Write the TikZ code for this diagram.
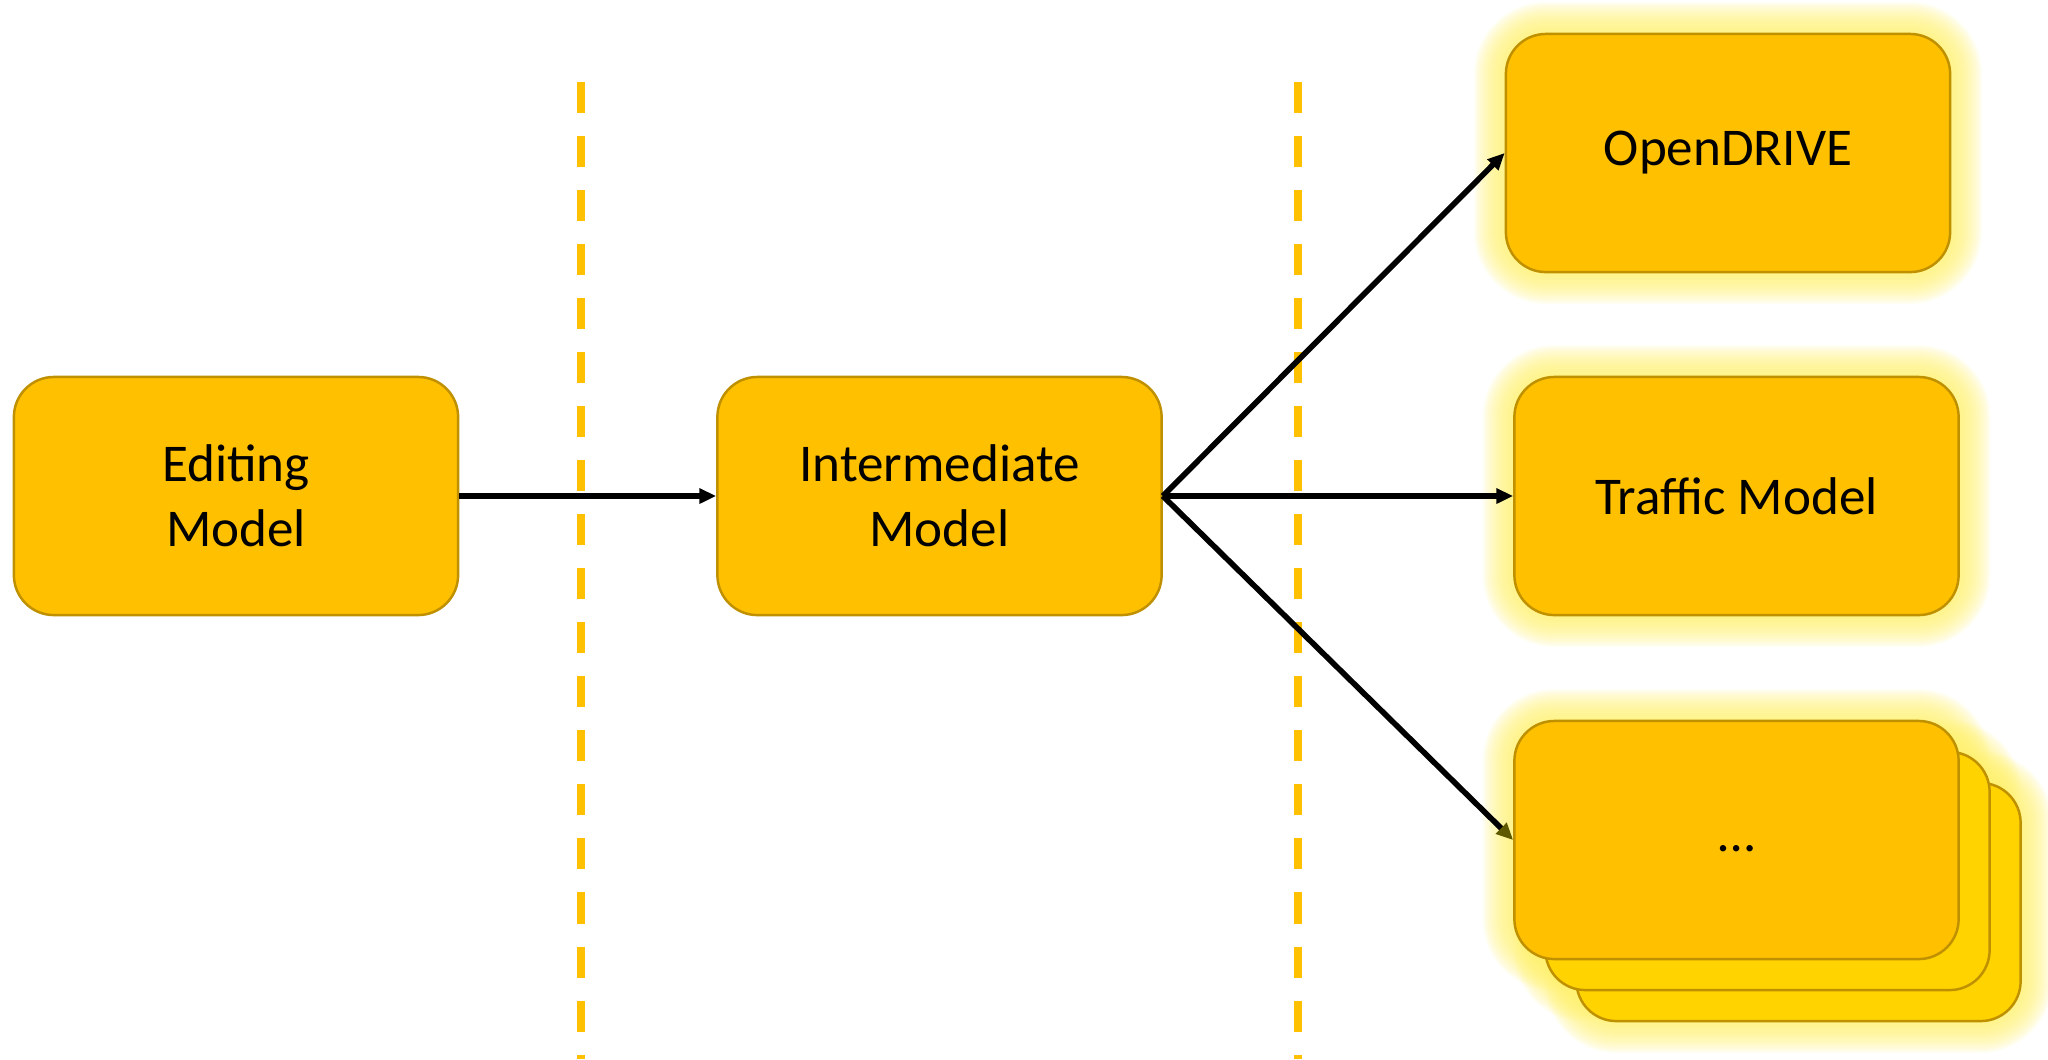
\documentclass[tikz,border=0pt]{standalone}
\usepackage{fontspec}
\setmainfont{Carlito}
\usetikzlibrary{arrows.meta}
\definecolor{gold}{HTML}{FFC000}
\definecolor{goldedge}{HTML}{BF9000}
\definecolor{goldlight}{HTML}{FFD300}
\definecolor{glowc}{HTML}{FFF06A}
\definecolor{olivetip}{HTML}{5F5A00}
\begin{document}
\begin{tikzpicture}[x=0.01cm,y=-0.01cm,
  box/.style={draw=goldedge, line width=0.7pt, fill=gold, rounded corners=0.4cm,
    minimum width=4.44cm, minimum height=2.38cm, align=center, inner sep=0pt,
    font=\fontsize{15.1}{18.5}\selectfont},
  backbox/.style={box, fill=goldlight},
  arr/.style={line width=1.6pt, -{Triangle[length=4.8pt,width=4.2pt]}},
  sep/.style={draw=gold, line width=2.3pt, dash pattern=on 0.31cm off 0.23cm}
]
\useasboundingbox (0,0) rectangle (2048,1059);
% glows
\foreach \cx/\cy in {1728/153, 1736.5/496, 1798.5/902, 1767.5/871, 1736.5/840}{
  \foreach \i in {16,15,...,1}{
    \pgfmathsetmacro{\rr}{0.4+0.02*\i}
    \fill[glowc, opacity=0.09, rounded corners=\rr cm]
      (\cx-222-2*\i, \cy-119-2*\i) rectangle (\cx+222+2*\i, \cy+119+2*\i);
  }
}
% separators
\coordinate (s1t) at (581,82);
\coordinate (s1b) at (581,1059);
\coordinate (s2t) at (1298,82);
\coordinate (s2b) at (1298,1059);
\draw[sep] (s1t) -- (s1b);
\draw[sep] (s2t) -- (s2b);
% nodes
\node[backbox] (back) at (1798.5,902) {};
\node[backbox] (mid) at (1767.5,871) {};
\node[box] (edit) at (236,496) {Editing\\Model};
\node[box] (inter) at (939.5,496) {Intermediate\\Model};
\node[box] (odr) at (1728,153) {OpenDRIVE};
\node[box] (traffic) at (1736.5,496) {Traffic Model};
\node[box] (dots) at (1736.5,840) {\raisebox{-0.11cm}[0pt][0pt]{…}};
% arrows
\draw[arr] (edit.east) -- (inter.west);
\draw[arr] (inter.east) -- (odr.west);
\draw[arr] (inter.east) -- (traffic.west);
\draw[line width=1.6pt, -{Triangle[length=4.8pt,width=4.2pt,color=olivetip]}] (inter.east) -- (dots.west);
\end{tikzpicture}
\end{document}
